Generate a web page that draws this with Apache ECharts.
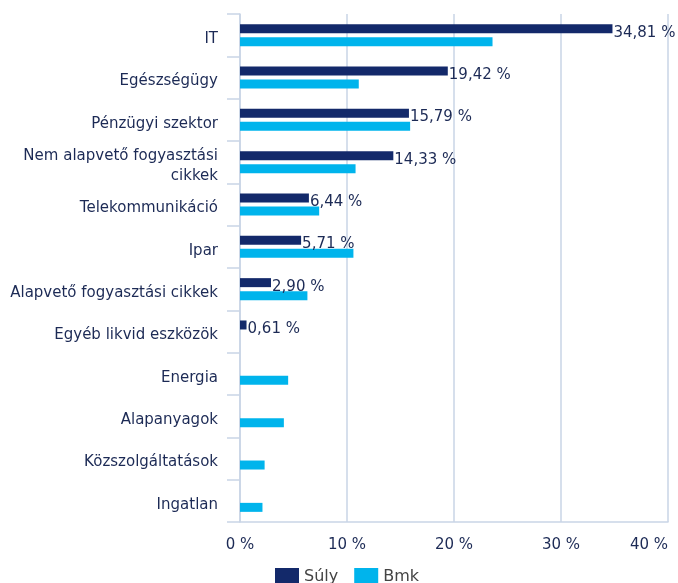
<!DOCTYPE html>
<html>
<head>
<meta charset="utf-8">
<script src="https://cdn.jsdelivr.net/npm/echarts@6/dist/echarts.min.js"></script>
<style>
  html, body { margin: 0; padding: 0; background: #fff; }
  #chart { width: 678px; height: 583px; }
</style>
</head>
<body>
<div id="chart"></div>
<script>
// szektorok
const categories = [
  'IT', 'Egészségügy', 'Pénzügyi szektor', 'Nem alapvető fogyasztási\ncikkek',
  'Telekommunikáció', 'Ipar', 'Alapvető fogyasztási cikkek', 'Egyéb likvid eszközök',
  'Energia', 'Alapanyagok', 'Közszolgáltatások', 'Ingatlan'
]
const sulyValues = [34.81, 19.42, 15.79, 14.33, 6.44, 5.71, 2.90, 0.61, null, null, null, null]
const bmkValues = [23.6, 11.1, 15.9, 10.8, 7.4, 10.6, 6.3, null, 4.5, 4.1, 2.3, 2.1]
const xTicks = [0, 10, 20, 30, 40]

const navy = '#13296a'
const cyan = '#00b4ec'
const textColor = '#1c2a55'
const lineColor = '#c9d5e6'

const chart = echarts.init(document.getElementById('chart'))

// labels sit a little below the band centre in the original
const catLabel = v => {
  const parts = v.split('\n')
  if (parts.length === 1) return '{p|' + v + '}'
  return parts.map((s, i) => (i === 0 ? '{q|' : '{n|') + s + '}').join('\n')
}

const option = {
  animation: false,
  textStyle: { fontFamily: 'DejaVu Sans' },
  grid: { left: 240, right: 10, top: 14, bottom: 61, outerBoundsMode: 'none' },
  legend: {
    left: 270,
    top: 563,
    itemWidth: 24,
    itemHeight: 18,
    itemGap: 16,
    icon: 'rect',
    textStyle: { color: '#444', fontSize: 16, fontFamily: 'DejaVu Sans' },
    data: ['Súly', 'Bmk']
  },
  xAxis: {
    type: 'value',
    min: xTicks[0],
    max: xTicks[xTicks.length - 1],
    interval: 10,
    axisLine: { show: true, lineStyle: { color: lineColor, width: 1.5 } },
    axisTick: { show: false },
    axisLabel: {
      color: textColor,
      fontSize: 15,
      margin: 16,
      alignMaxLabel: 'right',
      formatter: '{value} %'
    },
    splitLine: { show: true, lineStyle: { color: lineColor, width: 1.5 } }
  },
  yAxis: {
    type: 'category',
    inverse: true,
    data: categories,
    axisLine: { show: true, lineStyle: { color: lineColor, width: 1.5 } },
    axisTick: { show: true, length: 13, lineStyle: { color: lineColor, width: 1.5 } },
    axisLabel: {
      color: textColor,
      fontSize: 15,
      margin: 22,
      formatter: catLabel,
      rich: {
        p: { color: textColor, fontSize: 15, lineHeight: 20, padding: [8, 0, 0, 0] },
        q: { color: textColor, fontSize: 15, lineHeight: 27, verticalAlign: 'bottom' },
        n: { color: textColor, fontSize: 15, lineHeight: 24 }
      }
    }
  },
  series: [
    {
      name: 'Súly',
      type: 'bar',
      data: sulyValues,
      barWidth: 9,
      barGap: '45%',
      itemStyle: { color: navy },
      label: {
        show: true,
        position: 'right',
        distance: 1,
        offset: [0, 4],
        color: textColor,
        fontSize: 15,
        formatter: p => p.value == null ? '' : p.value.toFixed(2).replace('.', ',') + ' %'
      }
    },
    {
      name: 'Bmk',
      type: 'bar',
      data: bmkValues,
      barWidth: 9,
      itemStyle: { color: cyan }
    }
  ]
}

chart.setOption(option)
</script>
</body>
</html>
